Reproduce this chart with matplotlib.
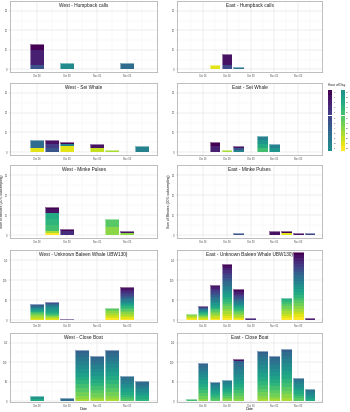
import numpy as np
import pandas as pd
import matplotlib
matplotlib.use("Agg")
import matplotlib.pyplot as plt
import matplotlib.dates as mdates
from matplotlib.patches import Rectangle

plt.rcParams['font.family'] = ['Liberation Sans', 'DejaVu Sans']

# colour per hour of day (0..23)
hour_colors = plt.cm.viridis(np.linspace(0, 1, 24))

# minutes per hour of day for each date (hour: minutes)
west_humpback = {"2021-10-28": {0: 3, 2: 8, 6: 2}, "2021-10-30": {11: 3}, "2021-11-03": {8: 3}}
east_humpback = {"2021-10-27": {22: 2}, "2021-10-28": {1: 6, 5: 2}, "2021-10-29": {9: 1}}

west_sei = {"2021-10-28": {8: 4, 22: 2}, "2021-10-29": {1: 2, 4: 2, 6: 2},
            "2021-10-30": {0: 1, 10: 1, 22: 3}, "2021-11-01": {1: 2, 21: 2},
            "2021-11-02": {20: 1}, "2021-11-04": {10: 3}}
east_sei = {"2021-10-27": {0: 2, 2: 3}, "2021-10-28": {20: 1}, "2021-10-29": {1: 1, 6: 1, 10: 1},
            "2021-10-31": {10: 2, 12: 2, 14: 2, 16: 2}, "2021-11-01": {10: 2, 12: 2}}

west_minke = {"2021-10-29": {0: 1, 1: 2, 14: 3, 15: 3, 16: 3, 20: 1, 23: 1},
              "2021-10-30": {0: 1, 3: 2}, "2021-11-02": {17: 4, 19: 4}, "2021-11-03": {1: 1, 19: 1}}
east_minke = {"2021-10-29": {6: 1}, "2021-11-01": {1: 2}, "2021-11-02": {0: 1, 22: 1},
              "2021-11-03": {1: 1}, "2021-11-04": {5: 1}}

west_ubw = {
    "2021-10-28": dict(enumerate([0, 0, 0, 0, 0, 0, 2, 2, 2, 2, 2, 2, 2, 2, 2, 2, 2, 2, 3, 3, 3, 3, 2, 1])),
    "2021-10-29": dict(enumerate([0, 0, 0, 0, 0, 1, 2, 2, 2, 2, 3, 3, 4, 4, 3, 3, 2, 2, 2, 2, 2, 2, 2, 1])),
    "2021-10-30": {2: 2},
    "2021-11-02": {17: 3, 18: 4, 19: 4, 20: 5, 21: 5, 22: 4, 23: 4},
    "2021-11-03": dict(enumerate([3, 4, 4, 4, 4, 3, 3, 3, 3, 3, 3, 3, 3, 3, 3, 3, 4, 4, 4, 4, 4, 4, 4, 3])),
}
east_ubw = {
    "2021-10-25": {18: 2, 19: 2, 20: 3, 21: 3, 22: 3, 23: 2},
    "2021-10-26": dict(enumerate([0, 0, 1, 1, 1, 1, 1, 1, 1, 1, 1, 2, 2, 2, 2, 2, 2, 2, 2, 2, 2, 2, 2, 1])),
    "2021-10-27": dict(enumerate([3, 3, 4, 4, 4, 4, 4, 4, 4, 4, 4, 4, 5, 4, 3, 3, 3, 3, 4, 4, 4, 3, 3, 3])),
    "2021-10-28": dict(enumerate([5, 6, 6, 6, 6, 6, 6, 6, 6, 6, 6, 6, 6, 6, 6, 6, 6, 6, 6, 6, 6, 6, 5, 5])),
    "2021-10-29": dict(enumerate([4, 4, 4, 3, 3, 3, 3, 3, 3, 3, 3, 3, 3, 3, 3, 3, 3, 3, 4, 4, 4, 3, 3, 2])),
    "2021-10-30": {1: 3, 3: 3},
    "2021-11-02": {14: 4, 15: 5, 16: 5, 17: 6, 18: 6, 19: 6, 20: 6, 21: 6, 22: 5, 23: 5},
    "2021-11-03": dict(enumerate([8, 8, 7, 7, 7, 7, 7, 7, 7, 7, 7, 7, 7, 7, 7, 7, 7, 7, 7, 7, 7, 7, 7, 7])),
    "2021-11-04": {0: 2, 2: 2},
}

west_boat = {
    "2021-10-28": {12: 6, 14: 6},
    "2021-10-30": {8: 8},
    "2021-10-31": {7: 8, 8: 10, 9: 10, 10: 10, 11: 10, 12: 10, 13: 10, 14: 10, 15: 10, 16: 10, 17: 10, 18: 9, 19: 8, 20: 6},
    "2021-11-01": {7: 6, 8: 9, 9: 9, 10: 9, 11: 9, 12: 9, 13: 9, 14: 9, 15: 9, 16: 9, 17: 9, 18: 9, 19: 7, 20: 4},
    "2021-11-02": {7: 7, 8: 10, 9: 10, 10: 10, 11: 10, 12: 10, 13: 10, 14: 10, 15: 10, 16: 10, 17: 10, 18: 10, 19: 8, 20: 6},
    "2021-11-03": {8: 6, 9: 7, 10: 7, 11: 7, 12: 7, 13: 7, 14: 7, 15: 6, 16: 5, 17: 5},
    "2021-11-04": {7: 4, 8: 6, 9: 6, 10: 6, 11: 6, 12: 6, 13: 6, 14: 6, 15: 6},
}
east_boat = {
    "2021-10-25": {16: 5},
    "2021-10-26": {7: 5, 8: 8, 9: 8, 10: 8, 11: 8, 12: 8, 13: 8, 14: 8, 15: 8, 16: 8, 17: 8, 18: 7, 19: 6},
    "2021-10-27": {8: 4, 9: 5, 10: 5, 11: 5, 12: 5, 13: 5, 14: 5, 15: 5, 16: 5, 17: 5},
    "2021-10-28": {9: 4, 10: 5, 11: 5, 12: 5, 13: 5, 14: 5, 15: 5, 16: 5, 17: 5, 18: 5, 19: 4},
    "2021-10-29": {0: 3, 1: 2, 7: 6, 8: 9, 9: 9, 10: 9, 11: 9, 12: 9, 13: 8, 14: 8, 15: 8, 16: 8, 17: 8, 18: 7, 19: 5},
    "2021-10-31": {7: 6, 8: 10, 9: 10, 10: 10, 11: 10, 12: 10, 13: 10, 14: 10, 15: 10, 16: 10, 17: 10, 18: 10, 19: 8, 20: 4},
    "2021-11-01": {7: 5, 8: 9, 9: 9, 10: 9, 11: 9, 12: 9, 13: 9, 14: 9, 15: 9, 16: 9, 17: 9, 18: 9, 19: 7, 20: 4},
    "2021-11-02": {7: 8, 8: 10, 9: 10, 10: 10, 11: 10, 12: 10, 13: 10, 14: 10, 15: 10, 16: 10, 17: 10, 18: 10, 19: 10, 20: 7},
    "2021-11-03": {8: 5, 9: 6, 10: 6, 11: 6, 12: 6, 13: 6, 14: 6, 15: 6, 16: 6, 17: 7},
    "2021-11-04": {8: 4, 9: 5, 10: 5, 11: 5, 12: 5, 13: 4, 14: 4},
}

call_types = ["Humpback calls", "Sei Whale", "Minke Pulses", "Unknown Baleen Whale UBW130)", "Close Boat"]
west_data = [west_humpback, west_sei, west_minke, west_ubw, west_boat]
east_data = [east_humpback, east_sei, east_minke, east_ubw, east_boat]
row_yticks = [[0, 10, 20, 30], [0, 10, 20, 30], [0, 10, 20, 30], [0, 50, 100, 150], [0, 50, 100, 150]]
row_ylims = [(-1.4, 31.3), (-1.4, 31.8), (-1.4, 32.2), (-5, 175), (-2.5, 157)]

west_ticks = ["2021-10-28", "2021-10-30", "2021-11-01", "2021-11-03"]
east_ticks = ["2021-10-26", "2021-10-28", "2021-10-30", "2021-11-01", "2021-11-03"]

W, H = 350, 412
fig = plt.figure(figsize=(W / 100, H / 100), dpi=100)

rows_px = [(1, 72), (83, 155), (165, 238), (250, 322), (333, 402)]
cols_px = {"West": (10, 157), "East": (177, 322)}
xlims = {"West": (pd.Timestamp("2021-10-28") - pd.Timedelta(days=1.8), pd.Timestamp("2021-11-05")),
         "East": (pd.Timestamp("2021-10-26") - pd.Timedelta(days=2.2), pd.Timestamp("2021-11-05"))}
ticks = {"West": west_ticks, "East": east_ticks}

border = "#b3b3b3"


def draw_panel(ax, data, title, site, yticks, ylim):
    for day, by_hour in data.items():
        x = mdates.date2num(pd.Timestamp(day))
        bottom = 0
        # hour 0 ends up on top of the stack, like ggplot
        for h in range(23, -1, -1):
            v = by_hour.get(h, 0)
            if v:
                ax.bar(x, v, width=0.9, bottom=bottom, color=hour_colors[h],
                       linewidth=0, zorder=3)
                bottom += v
        # light outline round the whole bar
        ax.bar(x, bottom, width=0.9, fill=False, edgecolor=(1, 1, 1, 0.8),
               linewidth=0.4, zorder=4)
    lo, hi = xlims[site]
    ax.set_xlim(mdates.date2num(lo), mdates.date2num(hi))
    ax.set_ylim(*ylim)
    tk = [mdates.date2num(pd.Timestamp(t)) for t in ticks[site]]
    ax.set_xticks(tk)
    ax.set_xticklabels([pd.Timestamp(t).strftime("%b %d") for t in ticks[site]])
    ax.set_xticks([t + 1 for t in tk] + [tk[0] - 1], minor=True)
    ax.set_yticks(yticks)
    step = yticks[1] - yticks[0]
    ax.set_yticks([y + step / 2 for y in yticks], minor=True)
    ax.grid(True, which="major", color="#dedede", linewidth=0.35, zorder=0)
    ax.grid(True, which="minor", color="#efefef", linewidth=0.2, zorder=0)
    ax.set_axisbelow(True)
    for s in ax.spines.values():
        s.set_color(border)
        s.set_linewidth(0.6)
    ax.tick_params(which="major", length=1.0, width=0.3, color=border, labelsize=1.8,
                   labelcolor="#4d4d4d", pad=0.7)
    ax.tick_params(which="minor", length=0)
    ax.text(0.5, 0.97, site + " - " + title, transform=ax.transAxes, ha="center", va="top",
            fontsize=3.4, color="#1a1a1a", zorder=5)


for r, (top, bot) in enumerate(rows_px):
    for site, data in (("West", west_data[r]), ("East", east_data[r])):
        x0, x1 = cols_px[site]
        ax = fig.add_axes([x0 / W, 1 - bot / H, (x1 - x0) / W, (bot - top) / H])
        draw_panel(ax, data, call_types[r], site, row_yticks[r], row_ylims[r])
        if r == 2:
            fig.text((x0 - 8.3) / W, 1 - (top + bot) / 2 / H, "Sum of Minutes (20% subsampling)",
                     rotation=90, ha="center", va="center", fontsize=2.4, color="#1a1a1a")
        if r == 4:
            fig.text((x0 + x1) / 2 / W, 1 - 409.5 / H, "Date", ha="center", va="center",
                     fontsize=2.8, color="#1a1a1a")

# legend for hour of day, two columns of 12
lax = fig.add_axes([326 / W, 1 - 158 / H, 24 / W, 76 / H])
lax.set_xlim(0, 24)
lax.set_ylim(76, 0)
lax.axis("off")
lax.text(1.5, 3, "Hour of Day", fontsize=2.3, va="center", ha="left", color="#1a1a1a")
for h in range(24):
    col, row = divmod(h, 12)
    x = 2 + col * 12.5
    y = 8 + row * 5.1
    lax.add_patch(Rectangle((x, y), 4, 5.1, facecolor=hour_colors[h], edgecolor="none"))
    lax.text(x + 5.5, y + 2.55, str(h), fontsize=1.7, va="center", ha="left", color="#333333")

fig.savefig("out.png", dpi=100)
